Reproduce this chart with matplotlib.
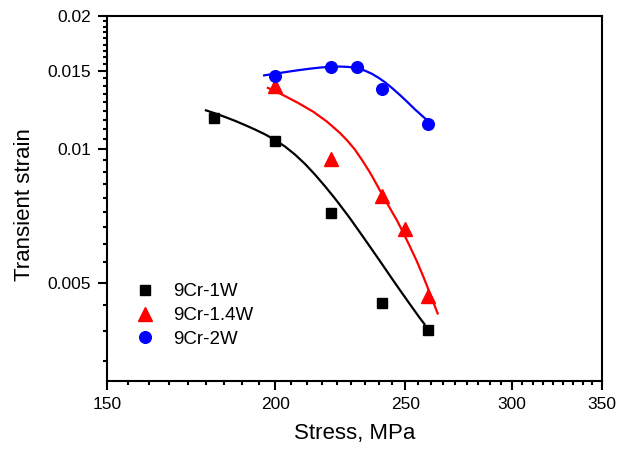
import numpy as np
import matplotlib
matplotlib.use("Agg")
import matplotlib.pyplot as plt
from matplotlib.ticker import FixedLocator, FuncFormatter, NullFormatter

plt.rcParams['font.family'] = ['Liberation Sans', 'DejaVu Sans']

# Données mesurées (points)
stress_1w = [180, 200, 220, 240, 260]
strain_1w = [0.01178, 0.01045, 0.00717, 0.00451, 0.00391]

stress_14w = [200, 220, 240, 250, 260]
strain_14w = [0.01388, 0.00952, 0.00785, 0.0066, 0.00467]

stress_2w = [200, 220, 230, 240, 260]
strain_2w = [0.01465, 0.0153, 0.01535, 0.01365, 0.0114]

# Courbes de tendance
fit_x_1w = [177.3, 180.4, 183.5, 186.7, 189.9, 193.2, 196.6, 199.9, 203.4, 206.9, 210.5, 214.1,
            217.8, 221.6, 223.5, 227.4, 231.3, 235.3, 239.4, 243.5, 247.7, 252.0, 256.3, 258.6]
fit_y_1w = [0.012258, 0.012050, 0.011826, 0.011589, 0.011339, 0.011078, 0.010799, 0.010495,
            0.010142, 0.009729, 0.009266, 0.008770, 0.008257, 0.007742, 0.007485, 0.006982,
            0.006492, 0.006028, 0.005591, 0.005185, 0.004812, 0.004470, 0.004161, 0.004016]

fit_x_14w = [197.2, 200.0, 202.7, 208.0, 213.4, 218.5, 223.5, 226.5, 229.3, 232.3, 235.3,
             238.0, 240.6, 243.5, 246.5, 249.3, 252.0, 254.9, 257.7, 261.0, 264.4]
fit_y_14w = [0.01378, 0.01352, 0.01325, 0.01272, 0.01216, 0.01155, 0.01088, 0.01043, 0.00998, 0.00942, 0.00886,
             0.00833, 0.00784, 0.00736, 0.00690, 0.00645, 0.00603, 0.00560, 0.00518, 0.00470, 0.00424]

fit_x_2w = [195.9, 198.8, 201.7, 205.2, 208.7, 212.3, 216.0, 219.7, 223.5, 226.8, 230.1,
            233.1, 236.1, 238.8, 241.4, 244.5, 247.7, 251.0, 254.2, 257.0, 259.9]
fit_y_2w = [0.01466, 0.01476, 0.01486, 0.01498, 0.01509, 0.01519, 0.01528, 0.01534, 0.01536, 0.01533, 0.01524,
            0.01505, 0.01479, 0.01449, 0.01416, 0.01372, 0.01325, 0.01276, 0.01229, 0.01193, 0.01158]

labels = ["9Cr-1W", "9Cr-1.4W", "9Cr-2W"]
x_ticks = [150, 200, 250, 300, 350]
y_ticks = [0.005, 0.01, 0.015, 0.02]


def minor_ticks(majors):
    # 8 petites graduations linéaires entre deux grandes
    ticks = []
    for a, b in zip(majors[:-1], majors[1:]):
        ticks += list(np.linspace(a, b, 10)[1:-1])
    return ticks


fig = plt.figure(figsize=(6.27, 4.49), dpi=100)
ax = fig.add_axes([0.1711, 0.1512, 0.7885, 0.8138])

line_kw = dict(lw=1.6, solid_joinstyle="round", solid_capstyle="butt")
ax.plot(fit_x_1w, fit_y_1w, color="black", **line_kw)
ax.plot(fit_x_14w, fit_y_14w, color="red", **line_kw)
ax.plot(fit_x_2w, fit_y_2w, color="blue", **line_kw)

ax.plot(stress_1w, strain_1w, "s", color="black", ms=7.2, ls="none", label=labels[0])
ax.plot(stress_14w, strain_14w, "^", color="red", ms=10, ls="none", label=labels[1])
ax.plot(stress_2w, strain_2w, "o", color="blue", ms=8.4, ls="none", label=labels[2])

ax.set_xscale("log")
ax.set_yscale("log")
ax.set_xlim(150, 350)
ax.set_ylim(0.003, 0.02)

ax.xaxis.set_major_locator(FixedLocator(x_ticks))
ax.xaxis.set_minor_locator(FixedLocator(minor_ticks(x_ticks)))
ax.xaxis.set_major_formatter(FuncFormatter(lambda v, p: "%g" % v))
ax.xaxis.set_minor_formatter(NullFormatter())

ax.yaxis.set_major_locator(FixedLocator(y_ticks))
ax.yaxis.set_minor_locator(FixedLocator(minor_ticks([0.0] + y_ticks)))
ax.yaxis.set_major_formatter(FuncFormatter(lambda v, p: "%g" % v))
ax.yaxis.set_minor_formatter(NullFormatter())

ax.tick_params(which="major", direction="out", length=6.5, width=1.5, labelsize=12.5, pad=5)
ax.tick_params(which="minor", direction="out", length=3.2, width=1.5)
for s in ax.spines.values():
    s.set_linewidth(1.5)

ax.set_xlabel("Stress, MPa", fontsize=16, labelpad=8)
ax.set_ylabel("Transient strain", fontsize=16)
ax.yaxis.set_label_coords(-0.146, 0.482)

ax.legend(loc="upper left", bbox_to_anchor=(0.016, 0.314), frameon=False, fontsize=13.5,
          numpoints=1, handlelength=1.4, handletextpad=0.8, labelspacing=0.35)

plt.savefig("out.png", dpi=100)
